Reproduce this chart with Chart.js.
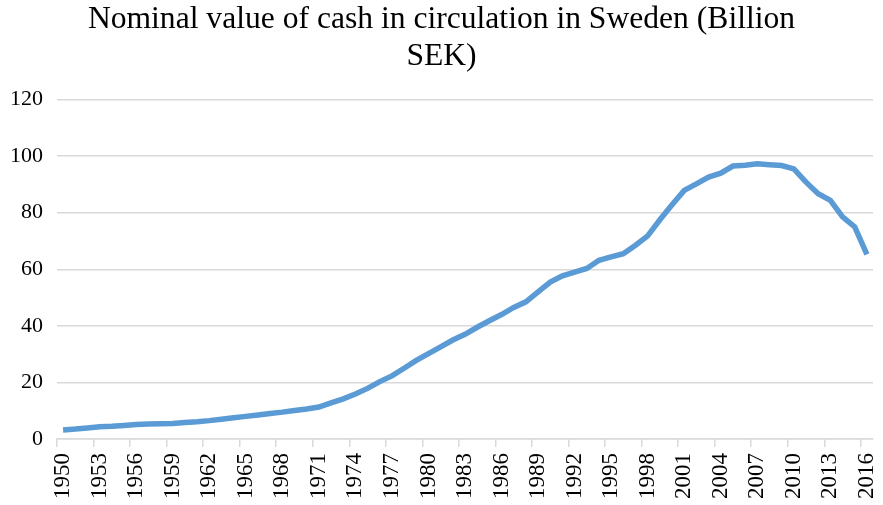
<!DOCTYPE html>
<html>
<head>
<meta charset="utf-8">
<script src="https://cdn.jsdelivr.net/npm/chart.js@4/dist/chart.umd.min.js"></script>
<style>
  body { margin: 0; background: #fff; }
  #wrap { width: 883px; height: 505px; position: relative; }
</style>
</head>
<body>
<div id="wrap"><canvas id="myChart"></canvas></div>
<script>
// years 1950..2016
var years = [];
for (var y = 1950; y <= 2016; y++) years.push(String(y));

// billion SEK
var cashValues = [
    3.2, 3.5, 3.9, 4.3, 4.5, 4.8, 5.1, 5.3, 5.4, 5.5,
    5.8, 6.1, 6.5, 7.0, 7.5, 8.0, 8.5, 9.0, 9.5, 10.1,
    10.6, 11.3, 12.8, 14.2, 15.9, 17.9, 20.3, 22.3, 25.0, 27.8,
    30.2, 32.6, 35.0, 37.0, 39.5, 41.8, 44.0, 46.5, 48.5, 52.0,
    55.5, 57.7, 59.0, 60.3, 63.2, 64.4, 65.5, 68.5, 71.8, 77.5,
    82.8, 87.9, 90.2, 92.6, 94.0, 96.5, 96.8, 97.3, 97.0, 96.7,
    95.5, 90.8, 86.7, 84.4, 78.5, 75.0, 65.3
];

var titleLines = ['Nominal value of cash in circulation in Sweden (Billion', 'SEK)'];

var serif = '"Liberation Serif", "Times New Roman", serif';

new Chart('myChart', {
    type: 'line',
    data: {
        labels: years,
        datasets: [{
            data: cashValues,
            borderColor: '#5b9bd5',
            borderWidth: 5.5,
            pointRadius: 0,
            fill: false,
            tension: 0
        }]
    },
    options: {
        responsive: true,
        maintainAspectRatio: false,
        animation: false,
        layout: { padding: 0 },
        plugins: {
            legend: { display: false },
            tooltip: { enabled: false },
            title: {
                display: true,
                text: titleLines,
                color: '#000',
                font: { family: serif, size: 31.6, weight: 'normal', lineHeight: 1.18 },
                padding: { top: 1, bottom: 24 }
            }
        },
        scales: {
            x: {
                offset: true,
                grid: {
                    offset: true,
                    drawOnChartArea: false,
                    drawTicks: true,
                    tickLength: 8,
                    lineWidth: 1.5,
                    color: (ctx) => (ctx.index % 3 == 0 ? '#d9d9d9' : 'rgba(0,0,0,0)')
                },
                border: { color: '#d9d9d9', width: 1.5 },
                ticks: {
                    autoSkip: false,
                    maxRotation: 90,
                    minRotation: 90,
                    padding: 6,
                    color: '#000',
                    font: { family: serif, size: 23 },
                    callback: function(val, i) { return i % 3 == 0 ? this.getLabelForValue(val) : ''; }
                },
                afterFit: (scale) => {
                    scale.height = 66;
                    scale.paddingLeft = 0;
                    scale.paddingRight = 10;
                }
            },
            y: {
                min: 0,
                max: 120,
                ticks: {
                    stepSize: 20,
                    padding: 14,
                    color: '#000',
                    font: { family: serif, size: 22 }
                },
                grid: { color: '#d9d9d9', lineWidth: 1.5, drawTicks: false },
                border: { display: false },
                afterFit: (scale) => {
                    scale.width = 57;
                    scale.paddingTop = 0;
                    scale.paddingBottom = 0;
                }
            }
        }
    }
});
</script>
</body>
</html>
